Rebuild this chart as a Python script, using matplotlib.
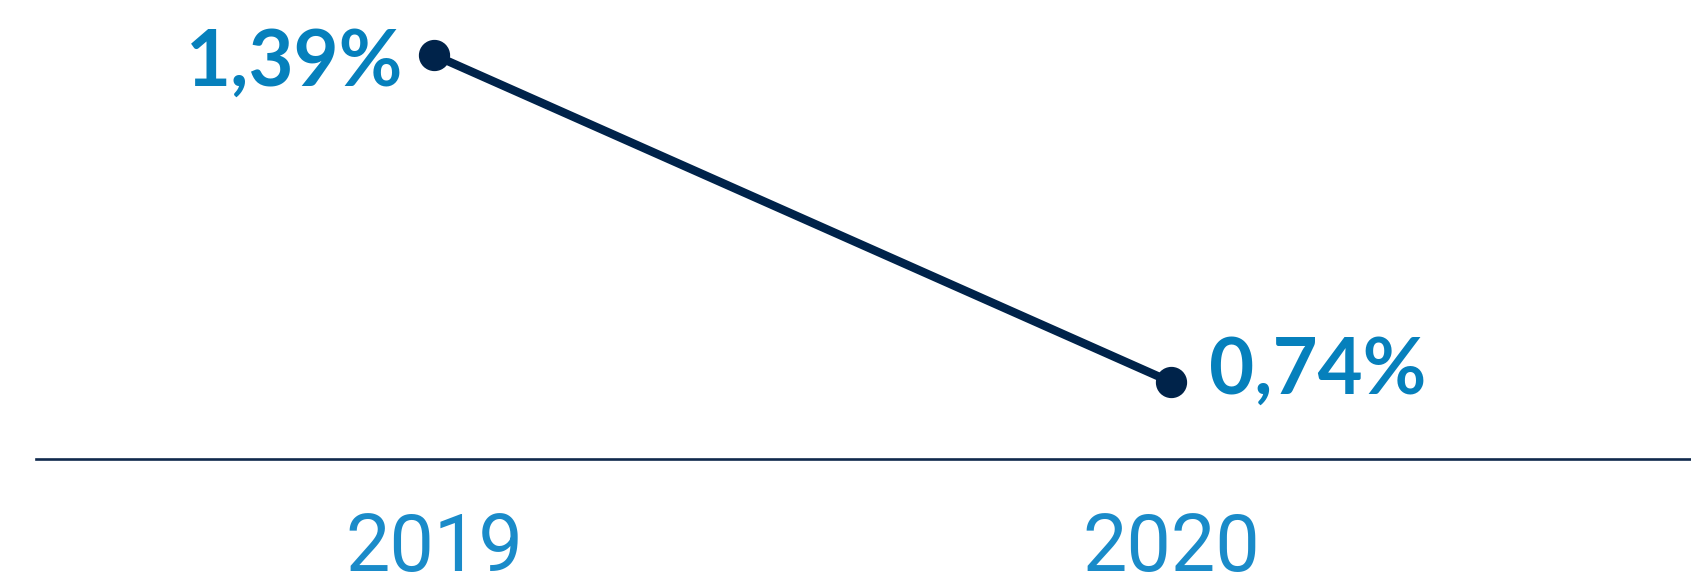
import matplotlib
matplotlib.use("Agg")
import matplotlib.pyplot as plt


years = ["2019", "2020"]
rates = [1.39, 0.74]
rate_labels = ["1,39%", "0,74%"]

NAVY = "#00234a"
AXIS_NAVY = "#10294d"
VALUE_BLUE = "#0680bc"
YEAR_BLUE = "#1a8bc9"

W, H = 1691, 573


def main() -> None:
    fig = plt.figure(figsize=(W / 100, H / 100), dpi=100)
    # axes bottom spine sits at the baseline rule of the chart
    ax = fig.add_axes([36 / W, 114 / H, 1 - 36 / W, 1 - 114 / H])

    x = list(range(len(years)))
    ax.plot(x, rates, color=NAVY, lw=6, marker="o", ms=21.5,
            solid_capstyle="butt", zorder=3, clip_on=False)

    ax.set_xlim(-0.540, 1.7055)
    ax.set_ylim(0.5869, 1.4993)

    # value labels: first one sits left of its point, second one right
    offsets = [(-31, -31, "right"), (38, -12, "left")]
    for xi, yi, text, (dx, dy, ha) in zip(x, rates, rate_labels, offsets):
        ax.annotate(text, (xi, yi), xytext=(dx, dy), textcoords="offset pixels",
                    ha=ha, va="baseline", fontsize=56, fontweight="bold",
                    family="Lato", color=VALUE_BLUE)

    for side in ["left", "right", "top"]:
        ax.spines[side].set_visible(False)
    ax.spines["bottom"].set_color(AXIS_NAVY)
    ax.spines["bottom"].set_linewidth(1.9)

    ax.set_yticks([])
    ax.set_xticks(x, labels=years)
    ax.tick_params(axis="x", length=0, pad=37.5, labelsize=57, labelcolor=YEAR_BLUE)
    for lbl in ax.get_xticklabels():
        lbl.set_family("Roboto")

    fig.savefig("out.png", dpi=100)
    plt.close(fig)


if __name__ == "__main__":
    main()
